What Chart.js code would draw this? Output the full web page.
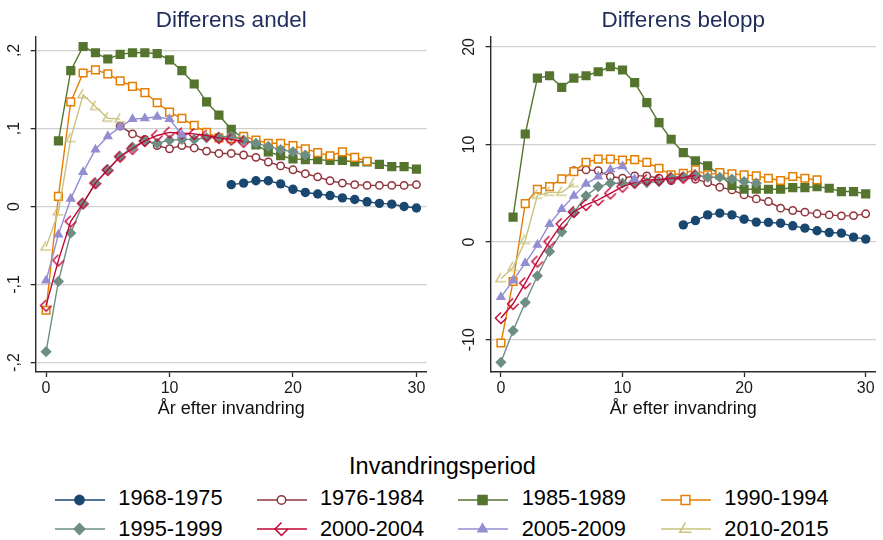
<!DOCTYPE html>
<html lang="sv"><head><meta charset="utf-8"><title>Differens andel / Differens belopp</title>
<script src="https://cdn.jsdelivr.net/npm/chart.js@4.4.1/dist/chart.umd.min.js"></script>
<style>
html,body{margin:0;padding:0;background:#fff;}
body{width:883px;height:540px;position:relative;overflow:hidden;font-family:"Liberation Sans",Arial,Helvetica,sans-serif;color:#000;}
canvas.chart{position:absolute;top:0;}
#legend-title{position:absolute;left:0;width:885px;top:455px;text-align:center;font-size:23.5px;line-height:23.5px;white-space:nowrap;}
.lg-text{position:absolute;font-size:21.8px;line-height:21.8px;white-space:nowrap;}
.lg-key{position:absolute;}
</style></head>
<body>
<canvas id="chartAndel" class="chart" width="440" height="430" style="left:0"></canvas>
<canvas id="chartBelopp" class="chart" width="443" height="430" style="left:440px"></canvas>
<div id="legend-title">Invandringsperiod</div>
<div id="legend"></div>
<script>
const N = null;
const years = [0,1,2,3,4,5,6,7,8,9,10,11,12,13,14,15,16,17,18,19,20,21,22,23,24,25,26,27,28,29,30];
const periods = ['1968-1975','1976-1984','1985-1989','1990-1994','1995-1999','2000-2004','2005-2009','2010-2015'];

// ---- Differens andel (index = år efter invandring 0..30) ----
const andel_1968_1975 = [N,N,N,N,N, N,N,N,N,N, N,N,N,N,N, 0.028,0.030,0.033,0.033,0.029,0.022,0.018,0.016,0.014,0.011,0.009,0.006,0.004,0.003,0.000,-0.002];
const andel_1976_1984 = [N,N,N,N,N, N, 0.103,0.093,0.086,0.078,0.074,0.078,0.075,0.071,0.068,0.068,0.066,0.063,0.057,0.052,0.047,0.042,0.038,0.033,0.030,0.028,0.027,0.027,0.027,0.027,0.028];
const andel_1985_1989 = [N, 0.084,0.174,0.205,0.197,0.189,0.195,0.197,0.197,0.196,0.188,0.174,0.157,0.134,0.117,0.099,0.087,0.079,0.070,0.065,0.061,0.060,0.060,0.059,0.059,0.057,0.057,0.054,0.051,0.051,0.048];
const andel_1990_1994 = [-0.133,0.013,0.134,0.171,0.175,0.170,0.161,0.154,0.146,0.133,0.121,0.113,0.104,0.095,0.088,0.087,0.090,0.085,0.081,0.081,0.078,0.074,0.069,0.065,0.070,0.063,0.058, N,N,N,N];
const andel_1995_1999 = [-0.186,-0.096,-0.034,0.004,0.030,0.047,0.064,0.076,0.084,0.081,0.085,0.086,0.086,0.088,0.089,0.090,0.085,0.081,0.077,0.073,0.070,0.066, N,N,N,N,N, N,N,N,N];
const andel_2000_2004 = [-0.127,-0.069,-0.019,0.004,0.030,0.047,0.064,0.074,0.084,0.091,0.095,0.094,0.093,0.091,0.088,0.086,0.083, N,N,N,N,N, N,N,N,N,N, N,N,N,N];
const andel_2005_2009 = [-0.095,-0.036,0.010,0.044,0.073,0.090,0.102,0.112,0.113,0.115,0.112,0.092, N,N,N,N,N, N,N,N,N,N, N,N,N,N,N, N,N,N,N];
const andel_2010_2015 = [-0.052,-0.007,0.087,0.143,0.128,0.113,0.112, N,N,N,N,N, N,N,N,N,N, N,N,N,N,N, N,N,N,N,N, N,N,N,N];

// ---- Differens belopp ----
const belopp_1968_1975 = [N,N,N,N,N, N,N,N,N,N, N,N,N,N,N, 1.77,2.21,2.79,2.97,2.79,2.35,2.05,2.02,1.94,1.67,1.43,1.16,0.98,0.92,0.51,0.31];
const belopp_1976_1984 = [N,N,N,N,N, N, 7.33,7.40,7.33,6.72,6.55,6.79,6.79,6.55,6.31,6.65,6.45,6.10,5.63,5.35,4.84,4.43,4.16,3.48,3.24,3.07,2.90,2.79,2.69,2.72,2.90];
const belopp_1985_1989 = [N, 2.56,11.08,16.80,17.05,15.86,16.80,17.05,17.46,17.97,17.64,16.34,14.29,12.24,10.54,9.17,8.32,7.81,6.89,5.80,5.42,5.42,5.42,5.42,5.59,5.59,5.69,5.52,5.18,5.18,4.94];
const belopp_1990_1994 = [-10.34,-4.03,3.95,5.42,5.69,6.48,7.23,8.19,8.50,8.50,8.42,8.45,8.17,7.57,6.89,7.06,7.40,6.89,7.12,6.99,6.89,6.79,6.55,6.31,6.72,6.55,6.38, N,N,N,N];
const belopp_1995_1999 = [-12.32,-9.08,-6.18,-3.45,-0.96,1.05,3.03,4.74,5.69,6.04,6.04,6.04,6.10,6.20,6.65,6.72,6.89,6.65,6.65,6.45,6.20,6.04, N,N,N,N,N, N,N,N,N];
const belopp_2000_2004 = [-7.78,-6.32,-4.20,-1.98,0.06,1.87,3.10,3.82,4.33,5.00,5.69,6.10,6.38,6.38,6.55,6.60,6.85, N,N,N,N,N, N,N,N,N,N, N,N,N,N];
const belopp_2005_2009 = [-5.63,-3.93,-2.15,-0.28,1.84,3.39,4.74,5.97,6.72,7.43,7.78,6.45, N,N,N,N,N, N,N,N,N,N, N,N,N,N,N, N,N,N,N];
const belopp_2010_2015 = [-3.76,-2.60,0.17,4.80,5.10,5.10,6.00, N,N,N,N,N, N,N,N,N,N, N,N,N,N,N, N,N,N,N,N, N,N,N,N];

const andelSeries = [andel_1968_1975,andel_1976_1984,andel_1985_1989,andel_1990_1994,andel_1995_1999,andel_2000_2004,andel_2005_2009,andel_2010_2015];
const beloppSeries = [belopp_1968_1975,belopp_1976_1984,belopp_1985_1989,belopp_1990_1994,belopp_1995_1999,belopp_2000_2004,belopp_2005_2009,belopp_2010_2015];

// ---- tick values and labels ----
const xTickValues = [0,10,20,30];
const andelTickValues = [-0.2,-0.1,0,0.1,0.2];
const andelTickLabels = ['-,2','-,1','0',',1',',2'];
const beloppTickValues = [-10,0,10,20];
const beloppTickLabels = ['-10','0','10','20'];

// ---- styles (kept apart from data) ----
const FONT = '"Liberation Sans", Arial, Helvetica, sans-serif';
const seriesColors = ['#1a476f','#90353b','#55752f','#e37e00','#6e8e84','#c10534','#938dd2','#cac27e'];
const markerKinds  = ['circle','circleH','rect','rectH','diamond','diamondP','triangle','triangleP'];
const markerRadii  = [4.7,3.7,6.5,5.4,5.6,5.6,5.9,5.8];

Chart.defaults.font.family = FONT;

function drawMarker(g, kind, x, y, r, color, lw){
  g.save();
  g.strokeStyle = color; g.fillStyle = color; g.lineWidth = lw; g.lineJoin = 'miter';
  g.beginPath();
  const s = r*Math.SQRT1_2;
  switch(kind){
    case 'circle': g.arc(x,y,r,0,2*Math.PI); g.fill(); break;
    case 'circleH': g.arc(x,y,r,0,2*Math.PI); g.fillStyle='#fff'; g.fill(); g.stroke(); break;
    case 'rect': g.rect(x-s,y-s,2*s,2*s); g.fill(); break;
    case 'rectH': g.rect(x-s,y-s,2*s,2*s); g.fillStyle='#fff'; g.fill(); g.stroke(); break;
    case 'diamond': g.moveTo(x,y-r); g.lineTo(x+r,y); g.lineTo(x,y+r); g.lineTo(x-r,y); g.closePath(); g.fill(); break;
    case 'diamondP': g.moveTo(x,y-r); g.lineTo(x-r,y); g.lineTo(x,y+r); g.lineTo(x+r,y); g.stroke(); break;
    case 'triangle': g.moveTo(x,y-r); g.lineTo(x+r*0.866,y+r*0.5); g.lineTo(x-r*0.866,y+r*0.5); g.closePath(); g.fill(); break;
    case 'triangleP': g.moveTo(x,y-r); g.lineTo(x-r*0.866,y+r*0.5); g.lineTo(x+r*0.866,y+r*0.5); g.stroke(); break;
  }
  g.restore();
}

function markerImage(kind, color, r){
  const size = Math.ceil(2*r + 4);
  const c = document.createElement('canvas'); c.width = size; c.height = size;
  drawMarker(c.getContext('2d'), kind, size/2, size/2, r, color, 1.4);
  return c;
}

function pointOptions(i){
  const k = markerKinds[i], c = seriesColors[i], r = markerRadii[i];
  switch(k){
    case 'circle':  return {pointStyle:'circle', pointRadius:r, pointBackgroundColor:c, pointBorderColor:c, pointBorderWidth:0};
    case 'circleH': return {pointStyle:'circle', pointRadius:r, pointBackgroundColor:'#fff', pointBorderColor:c, pointBorderWidth:1.5};
    case 'rect':    return {pointStyle:'rect', pointRadius:r, pointBackgroundColor:c, pointBorderColor:c, pointBorderWidth:0};
    case 'rectH':   return {pointStyle:'rect', pointRadius:r, pointBackgroundColor:'#fff', pointBorderColor:c, pointBorderWidth:1.5};
    case 'diamond': return {pointStyle:'rectRot', pointRadius:r, pointBackgroundColor:c, pointBorderColor:c, pointBorderWidth:0};
    case 'triangle':return {pointStyle:'triangle', pointRadius:r, pointBackgroundColor:c, pointBorderColor:c, pointBorderWidth:0};
    default:        return {pointStyle:markerImage(k,c,r), pointRadius:r};
  }
}

function buildDatasets(seriesList){
  return seriesList.map((vals,i)=>Object.assign({
    label: periods[i],
    data: years.map((t,j)=>({x:t, y:vals[j]})).filter(p=>p.y!==null),
    borderColor: seriesColors[i],
    borderWidth: 1.4,
    fill: false,
    tension: 0,
    order: -i
  }, pointOptions(i)));
}

const decorations = {
  id: 'decorations',
  afterDraw(chart, args, o){
    const {ctx, chartArea} = chart;
    const y = chart.scales.y;
    ctx.save();
    ctx.fillStyle = '#1e2d5b';
    ctx.font = '22.5px ' + FONT;
    ctx.textAlign = 'center'; ctx.textBaseline = 'alphabetic';
    ctx.fillText(o.title, (chartArea.left + chartArea.right)/2, 26.7);
    ctx.fillStyle = '#1a1a1a';
    ctx.font = '16px ' + FONT;
    o.tickValues.forEach((v,i)=>{
      const py = y.getPixelForValue(v);
      ctx.save();
      ctx.translate(chartArea.left - o.labelGap, py);
      ctx.rotate(-Math.PI/2);
      ctx.fillText(o.tickLabels[i], 0, 0);
      ctx.restore();
    });
    ctx.restore();
  }
};

function makeChart(id, title, seriesList, yMin, yMax, yTicks, yLabels, yAxisWidth, padRight, labelGap){
  return new Chart(document.getElementById(id), {
    type: 'line',
    data: { datasets: buildDatasets(seriesList) },
    plugins: [decorations],
    options: {
      responsive: false,
      devicePixelRatio: 1,
      animation: false,
      events: [],
      layout: { padding: { top: 37, right: padRight, left: 0, bottom: 0 } },
      plugins: {
        legend: { display: false },
        tooltip: { enabled: false },
        title: { display: false },
        decorations: { title: title, tickValues: yTicks, tickLabels: yLabels, labelGap: labelGap }
      },
      scales: {
        x: {
          type: 'linear', bounds: 'data', min: -0.84, max: 30.83,
          afterBuildTicks: s => { s.ticks = xTickValues.map(v=>({value:v})); },
          afterFit: s => { s.height = 58; },
          ticks: { color: '#1a1a1a', font: { size: 16 }, padding: 2, maxRotation: 0, callback: v => String(v) },
          grid: { display: true, drawOnChartArea: false, drawTicks: true, tickLength: 5, tickColor: '#2b2b2b', tickWidth: 1.3 },
          border: { display: true, color: '#2b2b2b', width: 1.4 },
          title: { display: true, text: 'År efter invandring', color: '#111', font: { size: 18 }, padding: { top: 0, bottom: 10.4 } }
        },
        y: {
          type: 'linear', bounds: 'data', min: yMin, max: yMax,
          afterBuildTicks: s => { s.ticks = yTicks.map(v=>({value:v})); },
          afterFit: s => { s.width = yAxisWidth; },
          ticks: { display: false },
          grid: { display: true, drawOnChartArea: true, drawTicks: true, tickLength: 5, color: '#cfcfcf', lineWidth: 1.3, tickColor: '#2b2b2b', tickWidth: 1.3 },
          border: { display: true, color: '#2b2b2b', width: 1.4 }
        }
      }
    }
  });
}

makeChart('chartAndel', 'Differens andel', andelSeries, -0.2121, 0.2172, andelTickValues, andelTickLabels, 35.7, 13.3, 16.5);
makeChart('chartBelopp', 'Differens belopp', beloppSeries, -13.31, 21.02, beloppTickValues, beloppTickLabels, 50.7, 1.2, 17.2);

// ---- shared legend ----
const legendLineX = [55, 256.7, 458.3, 661];
const legendTextX = [118.3, 320, 521.7, 724.3];
const legendLineY = [499.5, 529];
const legendTextTop = [486.5, 518.2];
const legend = document.getElementById('legend');
periods.forEach((p,i)=>{
  const col = i % 4, row = Math.floor(i / 4);
  const key = document.createElement('canvas');
  key.className = 'lg-key'; key.width = 52; key.height = 20;
  key.style.left = (legendLineX[col] - 1) + 'px';
  key.style.top = (legendLineY[row] - 10) + 'px';
  const g = key.getContext('2d');
  g.strokeStyle = seriesColors[i]; g.lineWidth = 1.6;
  g.beginPath(); g.moveTo(1, 10); g.lineTo(51, 10); g.stroke();
  drawMarker(g, markerKinds[i], 25.5, 10, markerRadii[i]*1.15, seriesColors[i], 1.5);
  legend.appendChild(key);
  const t = document.createElement('div');
  t.className = 'lg-text'; t.textContent = p;
  t.style.left = legendTextX[col] + 'px'; t.style.top = legendTextTop[row] + 'px';
  legend.appendChild(t);
});
</script>
</body></html>
